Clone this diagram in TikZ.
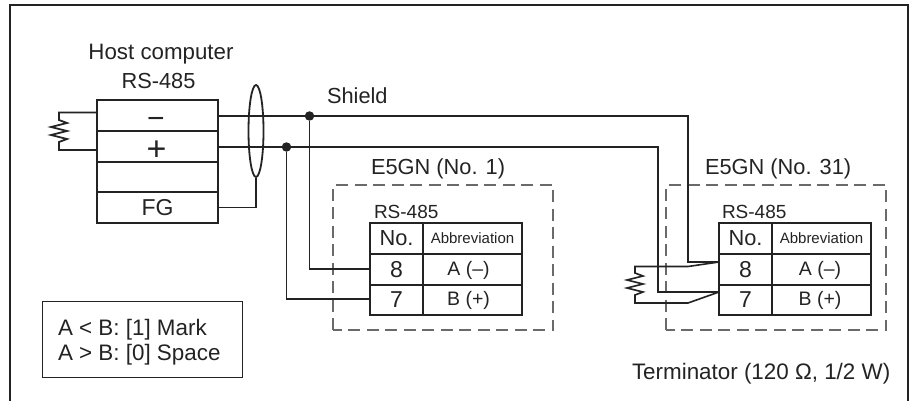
\documentclass[tikz,border=0pt]{standalone}
\usepackage{fontspec}
\setmainfont{Liberation Sans}
\usetikzlibrary{calc,shapes.geometric}
\definecolor{ink}{HTML}{232323}
\definecolor{dashc}{HTML}{6A6A6A}
\newcommand{\fs}[1]{\fontsize{#1}{#1}\selectfont}
\tikzset{
  lab/.style={inner sep=0pt,outer sep=0pt,text=ink,anchor=base west,font=\fs{21.8}},
  clab/.style={inner sep=0pt,outer sep=0pt,text=ink,anchor=base,font=\fs{21.8}},
  cell/.style={draw=ink,line width=2pt,inner sep=0pt,outer sep=0pt,text=ink,font=\fs{23}},
  wire/.style={draw=ink,line width=1.8pt,line join=miter},
  dashbox/.style={draw=dashc,line width=1.3pt,dash pattern=on 12pt off 6.5pt},
  dot/.style={circle,fill=ink,inner sep=0pt,minimum size=9.5pt},
  celltext/.style={inner sep=0pt,outer sep=0pt,text=ink,font=\fs{19.5}},
}
\newcommand{\rstable}[3]{% #1 prefix, #2 left x, #3 shift of the abbreviation values
  \node[cell,minimum width=53pt,minimum height=31pt,font=\fs{21.8}] (#1no) at (#2+26.5,238.5) {No.};
  \node[cell,minimum width=99pt,minimum height=31pt,font=\fs{15}] (#1ab) at (#2+102.5,238.5) {Abbreviation};
  \node[cell,minimum width=53pt,minimum height=30.5pt] (#1e) at (#2+26.5,269.25) {8};
  \node[cell,minimum width=99pt,minimum height=30.5pt] (#1a) at (#2+102.5,269.25) {};
  \node[celltext] (#1at) at (#2+102.5+#3,270) {A (–)};
  \node[cell,minimum width=53pt,minimum height=30.5pt] (#1s) at (#2+26.5,299.75) {7};
  \node[cell,minimum width=99pt,minimum height=30.5pt] (#1b) at (#2+102.5,299.75) {};
  \node[celltext] (#1bt) at (#2+102.5+#3,300.5) {B (+)};
}
\begin{document}
\begin{tikzpicture}[x=1pt,y=-1pt]
\useasboundingbox (0,0) rectangle (912,401);
% outer frame, open at the bottom
\coordinate (fbl) at (10,402);
\coordinate (ftl) at (10,5);
\coordinate (ftr) at (908,5);
\coordinate (fbr) at (908,402);
\draw[ink,line width=2pt] (fbl) -- (ftl) -- (ftr) -- (fbr);
% host
\node[clab,font=\fs{22.3}] (hc) at (161,60) {Host computer};
\node[clab] (hr) at (158.5,89) {RS-485};
\node[cell,minimum width=121pt,minimum height=31pt] (hm) at (157.5,115.5) {};
\node[cell,minimum width=121pt,minimum height=31pt] (hp) at (157.5,146.5) {};
\node[cell,minimum width=121pt,minimum height=30pt] (he) at (157.5,177) {};
\node[cell,minimum width=121pt,minimum height=31pt] (hf) at (157.5,207.5) {FG};
\node[inner sep=0pt,text=ink,font=\fs{30}] (mns) at (156,122.5) {−};
\node[inner sep=0pt,text=ink,font=\fs{34}] (pls) at (156.5,151) {+};
% left resistor
\coordinate (la) at (97,112.5);
\coordinate (lb) at (97,150);
\coordinate (la1) at (59,112.5);
\coordinate (lb1) at (59,150);
\draw[wire] (la) -- (la1) -- (59,120) -- (67,123) -- (51,127) -- (67,131) -- (51,135) -- (67,139) -- (59,142) -- (lb1) -- (lb);
% dashed boxes
\draw[dashbox] (333,330) -- (333,185) -- (553,185) -- (553,330) -- cycle;
\draw[dashbox] (666,330) -- (666,185) -- (886,185) -- (886,330) -- cycle;
% labels
\node[lab] (sh) at (327,103) {Shield};
\node[lab] (e1) at (371,174) {E5GN (No. 1)};
\node[lab] (e31) at (705,174) {E5GN (No. 31)};
\node[lab,font=\fs{19}] (r1) at (374,218) {RS-485};
\node[lab,font=\fs{19}] (r31) at (722,218) {RS-485};
\node[lab,font=\fs{22.4}] (tm) at (632,379) {Terminator (120 Ω, 1/2 W)};
% tables
\rstable{l}{370}{-4}
\rstable{r}{719}{-1.5}
% wires
\node[dot] (d1) at (309.5,116) {};
\node[dot] (d2) at (286.5,147) {};
\coordinate (r8) at (719,262);
\coordinate (r7) at (719,292);
\coordinate (c1) at (688,116);
\coordinate (c1b) at (688,262);
\coordinate (c2) at (658,147);
\coordinate (c2b) at (658,292);
\draw[wire] (hm.east |- d1) -- (d1) -- (c1) -- (c1b) -- (r8);
\draw[wire] (hp.east |- d2) -- (d2) -- (c2) -- (c2b) -- (r7);
\draw[wire] (d1) -- (309.5,269) -- (le.west |- 0,269);
\draw[wire] (d2) -- (286.5,299) -- (ls.west |- 0,299);
% terminator
\coordinate (tu) at (635,266.5);
\coordinate (tl) at (635,303);
\draw[wire,line width=1.6pt] (r8) -- (688,266.5) -- (tu) -- (635,273) -- (643,276) -- (627,280) -- (643,284) -- (627,288) -- (643,292) -- (635,295) -- (tl) -- (688,303) -- (r7);
% shield ellipse
\node[draw=ink,line width=1.8pt,ellipse,inner sep=0pt,minimum width=15pt,minimum height=92pt] (sh2) at (256,131) {};
\draw[wire] (hf.east) -- (256,207.5) -- (sh2.south);
% legend
\node[draw=ink,line width=1pt,minimum width=200pt,minimum height=76pt,inner sep=0pt] (leg) at (142,339) {};
\node[lab,font=\fs{22.4}] (l1) at (58,335) {A < B: [1] Mark};
\node[lab,font=\fs{22.4}] (l2) at (58,360) {A > B: [0] Space};
\end{tikzpicture}
\end{document}
